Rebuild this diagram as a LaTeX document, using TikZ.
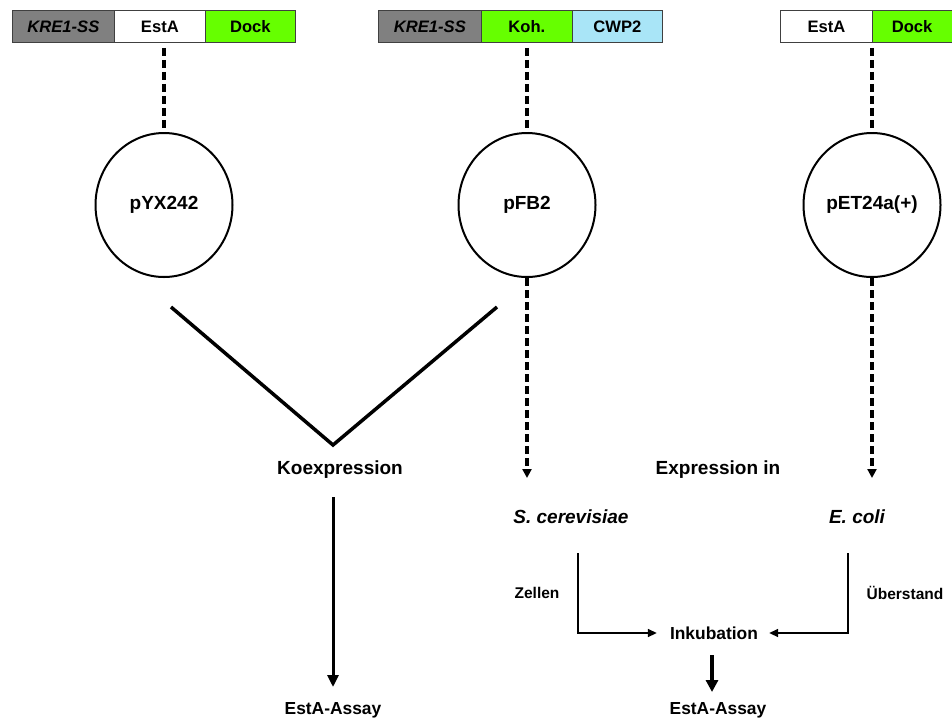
\documentclass[tikz,border=0pt]{standalone}
\usepackage{fontspec}
\setmainfont{Liberation Sans}
\usetikzlibrary{arrows.meta,shapes.geometric}
\definecolor{seggray}{HTML}{808080}
\definecolor{seggreen}{HTML}{66FF00}
\definecolor{segblue}{HTML}{A9E5F7}
\begin{document}
\begin{tikzpicture}[x=1pt,y=-1pt,
  seg/.style={draw=black!75, line width=0.8pt, minimum height=32pt, inner sep=0pt,
    anchor=north west, font=\fontsize{16.6}{18}\selectfont\bfseries},
  plasmid/.style={draw, ellipse, line width=2pt, minimum width=137pt, minimum height=144pt,
    inner sep=0pt, font=\fontsize{19}{22}\selectfont\bfseries},
  bigtxt/.style={inner sep=3pt, font=\fontsize{19}{22}\selectfont\bfseries},
  midtxt/.style={inner sep=3pt, font=\fontsize{17.4}{20}\selectfont\bfseries},
  smalltxt/.style={inner sep=3pt, font=\fontsize{15.5}{18}\selectfont\bfseries},
  dashline/.style={line width=3.5pt, dash pattern=on 8pt off 4pt},
  dasharrow/.style={dashline, -{Triangle[length=9pt,width=9pt]}},
  thinarrow/.style={line width=1.6pt, -{Triangle[length=9pt,width=8pt]}},
  thickarrow/.style={line width=3pt, -{Triangle[length=12pt,width=11pt]}},
  vline/.style={line width=3.5pt}
]
\useasboundingbox (0,0) rectangle (952,718);

% construct bars
\node[seg, fill=seggray,  minimum width=102pt] (b1a) at (12,10)  {\itshape KRE1-SS};
\node[seg, fill=white,    minimum width=91pt]  (b1b) at (114,10) {EstA};
\node[seg, fill=seggreen, minimum width=90pt]  (b1c) at (205,10) {Dock};

\node[seg, fill=seggray,  minimum width=103pt] (b2a) at (378,10) {\itshape KRE1-SS};
\node[seg, fill=seggreen, minimum width=91pt]  (b2b) at (481,10) {Koh.};
\node[seg, fill=segblue,  minimum width=90pt]  (b2c) at (572,10) {CWP2};

\node[seg, fill=white,    minimum width=92pt]  (b3a) at (780,10) {EstA};
\node[seg, fill=seggreen, minimum width=79.5pt](b3b) at (872,10) {Dock};

% plasmids
\node[plasmid] (p1) at (164,205) {pYX242};
\node[plasmid] (p2) at (527,205) {pFB2};
\node[plasmid] (p3) at (872,205) {pET24a(+)};

\draw[dashline, shorten <=5pt] (b1b.south -| p1.north) -- (p1.north);
\draw[dashline, shorten <=5pt] (b2b.south -| p2.north) -- (p2.north);
\draw[dashline, shorten <=5pt] (b3a.south -| p3.north) -- (p3.north);

% texts
\node[bigtxt] (kx) at (340,470) {Koexpression};
\node[bigtxt] (exin) at (718,470) {Expression in};
\node[bigtxt] (sc) at (571,517) {\itshape S. cerevisiae};
\node[bigtxt] (ec) at (857,517) {\itshape E. coli};
\node[smalltxt] (zel) at (537,593) {Zellen};
\node[smalltxt] (ueb) at (905,593) {Überstand};
\node[midtxt] (ink) at (714,633) {Inkubation};
\node[midtxt] (ea1) at (333,710) {EstA-Assay};
\node[midtxt] (ea2) at (718,710) {EstA-Assay};

% V shape
\coordinate (vl) at (171,307);
\coordinate (vv) at (333,445);
\coordinate (vr) at (497,307);
\draw[vline, line join=miter] (vl) -- (vv) -- (vr);

% arrows
\coordinate (t2) at (527,478);
\coordinate (t3) at (872,478);
\draw[dasharrow] (p2.south) -- (t2);
\draw[dasharrow] (p3.south) -- (t3);

\coordinate (k0) at (333,497);
\coordinate (k1) at (333,687);
\draw[thickarrow] (k0) -- (k1);

\coordinate (zl) at (578,553);
\coordinate (zr) at (848,553);
\draw[thinarrow, shorten >=10pt] (zl) |- (ink.west);
\draw[thinarrow, shorten >=8pt] (zr) |- (ink.east);

\coordinate (i0) at (712,655);
\coordinate (i1) at (712,692);
\draw[line width=4pt, -{Triangle[length=12pt,width=12pt]}] (i0) -- (i1);
\end{tikzpicture}
\end{document}
